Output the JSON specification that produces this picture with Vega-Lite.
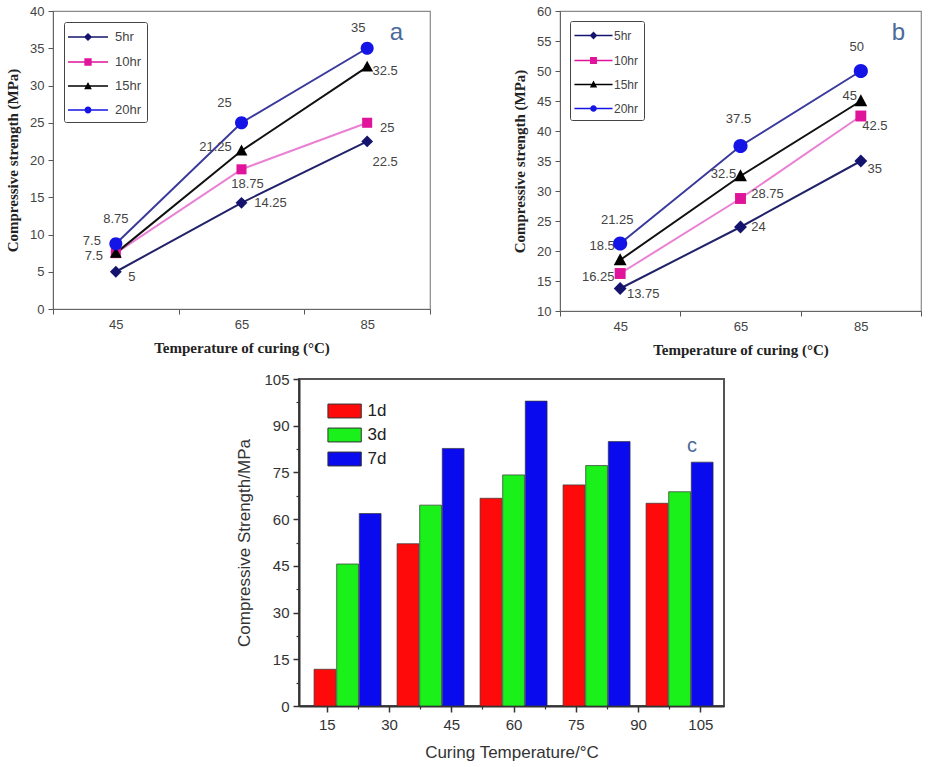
{
  "$schema": "https://vega.github.io/schema/vega-lite/v6.json",
  "background": "white",
  "padding": {"left": 4, "top": 4, "right": 4, "bottom": 4},
  "datasets": {
    "a": [
      {"series": "5hr", "temp": 45, "strength": 5},
      {"series": "5hr", "temp": 65, "strength": 14.25},
      {"series": "5hr", "temp": 85, "strength": 22.5},
      {"series": "10hr", "temp": 45, "strength": 7.5},
      {"series": "10hr", "temp": 65, "strength": 18.75},
      {"series": "10hr", "temp": 85, "strength": 25},
      {"series": "15hr", "temp": 45, "strength": 7.5},
      {"series": "15hr", "temp": 65, "strength": 21.25},
      {"series": "15hr", "temp": 85, "strength": 32.5},
      {"series": "20hr", "temp": 45, "strength": 8.75},
      {"series": "20hr", "temp": 65, "strength": 25},
      {"series": "20hr", "temp": 85, "strength": 35}
    ],
    "b": [
      {"series": "5hr", "temp": 45, "strength": 13.75},
      {"series": "5hr", "temp": 65, "strength": 24},
      {"series": "5hr", "temp": 85, "strength": 35},
      {"series": "10hr", "temp": 45, "strength": 16.25},
      {"series": "10hr", "temp": 65, "strength": 28.75},
      {"series": "10hr", "temp": 85, "strength": 42.5},
      {"series": "15hr", "temp": 45, "strength": 18.5},
      {"series": "15hr", "temp": 65, "strength": 32.5},
      {"series": "15hr", "temp": 85, "strength": 45},
      {"series": "20hr", "temp": 45, "strength": 21.25},
      {"series": "20hr", "temp": 65, "strength": 37.5},
      {"series": "20hr", "temp": 85, "strength": 50}
    ],
    "c": [
      {"temp": 20, "age": "1d", "strength": 11.8},
      {"temp": 20, "age": "3d", "strength": 45.6},
      {"temp": 20, "age": "7d", "strength": 61.8},
      {"temp": 40, "age": "1d", "strength": 52.1},
      {"temp": 40, "age": "3d", "strength": 64.5},
      {"temp": 40, "age": "7d", "strength": 82.7},
      {"temp": 60, "age": "1d", "strength": 66.7},
      {"temp": 60, "age": "3d", "strength": 74.2},
      {"temp": 60, "age": "7d", "strength": 97.9},
      {"temp": 80, "age": "1d", "strength": 71},
      {"temp": 80, "age": "3d", "strength": 77.2},
      {"temp": 80, "age": "7d", "strength": 84.9},
      {"temp": 100, "age": "1d", "strength": 65.1},
      {"temp": 100, "age": "3d", "strength": 68.8},
      {"temp": 100, "age": "7d", "strength": 78.3}
    ]
  },
  "config": {
    "view": {"stroke": "#8a8a8a", "strokeWidth": 1.2},
    "axis": {"grid": false}
  },
  "resolve": {
    "scale": {"color": "independent", "shape": "independent", "stroke": "independent"},
    "legend": {"color": "independent", "shape": "independent"}
  },
  "spacing": 13,
  "vconcat": [
    {
      "spacing": 79,
      "resolve": {
        "scale": {"color": "independent", "shape": "independent", "stroke": "independent"},
        "legend": {"color": "independent", "shape": "independent"}
      },
      "hconcat": [
        {
          "width": 377,
          "height": 298,
          "data": {"name": "a"},
          "title": {"text": "a", "orient": "top", "anchor": "end", "frame": "group", "baseline": "middle", "offset": -52, "dx": -27, "fontSize": 24, "font": "Liberation Sans", "fontWeight": "normal", "color": "#4a6a9a"},
          "encoding": {
            "x": {
              "field": "temp", "type": "ordinal", "bandPosition": 0.5,
              "scale": {"type": "band", "domain": [45, 65, 85], "paddingInner": 0, "paddingOuter": 0},
              "axis": {"title": "Temperature of curing (°C)", "labelAngle": 0, "tickBand": "extent", "labelFont": "Liberation Sans", "labelFontSize": 13, "labelColor": "#444", "labelPadding": 4, "tickSize": 5, "tickColor": "#555", "domainColor": "#666", "titleFont": "Liberation Serif", "titleFontSize": 15, "titleFontWeight": "bold", "titleColor": "#222", "titlePadding": 9}
            },
            "y": {
              "field": "strength", "type": "quantitative",
              "scale": {"domain": [0, 40], "nice": false},
              "axis": {"title": "Compressive strength (MPa)", "values": [0, 5, 10, 15, 20, 25, 30, 35, 40], "labelFont": "Liberation Sans", "labelFontSize": 13, "labelColor": "#444", "labelPadding": 4, "tickSize": 5, "tickColor": "#555", "domainColor": "#666", "titleFont": "Liberation Serif", "titleFontSize": 15, "titleFontWeight": "bold", "titleColor": "#222", "titlePadding": 9}
            }
          },
          "resolve": {"scale": {"color": "independent", "shape": "independent"}},
          "layer": [
            {
              "mark": {"type": "line", "strokeWidth": 2},
              "encoding": {
                "stroke": {"field": "series", "type": "nominal", "scale": {"domain": ["20hr", "15hr", "10hr", "5hr"], "range": ["#3a3a9c", "#111111", "#ea80d4", "#22226a"]}, "legend": null}
              }
            },
            {
              "mark": {
                "type": "text", "font": "Liberation Sans", "fontSize": 13, "color": "#444", "align": "center", "baseline": "middle",
                "dx": {"expr": "{'5hr':[16,29,18],'10hr':[-24,6,20],'15hr':[-22,-26,18],'20hr':[0,-17,-9]}[datum.series][indexof([45,65,85],datum.temp)]"},
                "dy": {"expr": "{'5hr':[5,0,21],'10hr':[-12,15,5],'15hr':[3,-4,4],'20hr':[-25,-20,-20]}[datum.series][indexof([45,65,85],datum.temp)]"}
              },
              "encoding": {"text": {"field": "strength", "type": "nominal"}}
            },
            {
              "mark": {"type": "point", "filled": true, "size": 140, "opacity": 1},
              "encoding": {
                "color": {"field": "series", "type": "nominal", "scale": {"domain": ["5hr", "10hr", "15hr", "20hr"], "range": ["#14146e", "#e0149a", "#000000", "#1414e6"]}, "legend": null},
                "shape": {"field": "series", "type": "nominal", "scale": {"domain": ["5hr", "10hr", "15hr", "20hr"], "range": ["M0,-1L1,0L0,1L-1,0Z", "M-0.85,-0.85H0.85V0.85H-0.85Z", "M0,-1.05L1,0.8H-1Z", "M1.1,0A1.1,1.1,0,1,1,-1.1,0A1.1,1.1,0,1,1,1.1,0Z"]}, "legend": null}
              }
            },
            {
              "mark": {"type": "point", "filled": true, "size": 330, "opacity": 0},
              "encoding": {
                "color": {
                  "field": "series", "type": "nominal",
                  "scale": {"domain": ["5hr", "10hr", "15hr", "20hr"], "range": ["#14146e", "#e0149a", "#000000", "#1414e6"]},
                  "legend": {
                    "title": null, "orient": "top-left", "offset": 11, "padding": 5,
                    "strokeColor": "#444", "fillColor": "white", "cornerRadius": 2,
                    "symbolSize": 330, "symbolOpacity": 1, "symbolOffset": 9, "labelOffset": 17,
                    "labelFont": "Liberation Sans", "labelFontSize": 13, "labelColor": "#444", "rowPadding": 7
                  }
                },
                "shape": {
                  "field": "series", "type": "nominal",
                  "scale": {"domain": ["5hr", "10hr", "15hr", "20hr"], "range": [
                    "M-2.2,-0.08H2.2V0.08H-2.2ZM0,-0.45L0.45,0L0,0.45L-0.45,0Z",
                    "M-2.2,-0.08H2.2V0.08H-2.2ZM-0.4,-0.4H0.4V0.4H-0.4Z",
                    "M-2.2,-0.08H2.2V0.08H-2.2ZM0,-0.45L0.42,0.35H-0.42Z",
                    "M-2.2,-0.08H2.2V0.08H-2.2ZM0.38,0A0.38,0.38,0,1,1,-0.38,0A0.38,0.38,0,1,1,0.38,0Z"
                  ]},
                  "legend": {
                    "title": null, "orient": "top-left", "offset": 11, "padding": 5,
                    "strokeColor": "#444", "fillColor": "white", "cornerRadius": 2,
                    "symbolSize": 330, "symbolOpacity": 1, "symbolOffset": 9, "labelOffset": 17,
                    "labelFont": "Liberation Sans", "labelFontSize": 13, "labelColor": "#444", "rowPadding": 7
                  }
                }
              }
            }
          ]
        },
        {
          "width": 361,
          "height": 300,
          "data": {"name": "b"},
          "title": {"text": "b", "orient": "top", "anchor": "end", "frame": "group", "baseline": "middle", "offset": -52, "dx": -16, "fontSize": 24, "font": "Liberation Sans", "fontWeight": "normal", "color": "#4a6a9a"},
          "encoding": {
            "x": {
              "field": "temp", "type": "ordinal", "bandPosition": 0.5,
              "scale": {"type": "band", "domain": [45, 65, 85], "paddingInner": 0, "paddingOuter": 0},
              "axis": {"title": "Temperature of curing (°C)", "labelAngle": 0, "tickBand": "extent", "labelFont": "Liberation Sans", "labelFontSize": 13, "labelColor": "#444", "labelPadding": 4, "tickSize": 5, "tickColor": "#555", "domainColor": "#666", "titleFont": "Liberation Serif", "titleFontSize": 15, "titleFontWeight": "bold", "titleColor": "#222", "titlePadding": 9}
            },
            "y": {
              "field": "strength", "type": "quantitative",
              "scale": {"domain": [10, 60], "nice": false, "zero": false},
              "axis": {"title": "Compressive strength (MPa)", "values": [10, 15, 20, 25, 30, 35, 40, 45, 50, 55, 60], "labelFont": "Liberation Sans", "labelFontSize": 13, "labelColor": "#444", "labelPadding": 4, "tickSize": 5, "tickColor": "#555", "domainColor": "#666", "titleFont": "Liberation Serif", "titleFontSize": 15, "titleFontWeight": "bold", "titleColor": "#222", "titlePadding": 9}
            }
          },
          "resolve": {"scale": {"color": "independent", "shape": "independent"}},
          "layer": [
            {
              "mark": {"type": "line", "strokeWidth": 2},
              "encoding": {
                "stroke": {"field": "series", "type": "nominal", "scale": {"domain": ["20hr", "15hr", "10hr", "5hr"], "range": ["#3a3a9c", "#111111", "#ea80d4", "#22226a"]}, "legend": null}
              }
            },
            {
              "mark": {
                "type": "text", "font": "Liberation Sans", "fontSize": 13, "color": "#444", "align": "center", "baseline": "middle",
                "dx": {"expr": "{'5hr':[23,18,14],'10hr':[-22,27,14],'15hr':[-18,-17,-11],'20hr':[-3,-2,-4]}[datum.series][indexof([45,65,85],datum.temp)]"},
                "dy": {"expr": "{'5hr':[5,0,8],'10hr':[3,-5,10],'15hr':[-14,-2,-5],'20hr':[-24,-27,-24]}[datum.series][indexof([45,65,85],datum.temp)]"}
              },
              "encoding": {"text": {"field": "strength", "type": "nominal"}}
            },
            {
              "mark": {"type": "point", "filled": true, "size": 165, "opacity": 1},
              "encoding": {
                "color": {"field": "series", "type": "nominal", "scale": {"domain": ["5hr", "10hr", "15hr", "20hr"], "range": ["#14146e", "#e0149a", "#000000", "#1414e6"]}, "legend": null},
                "shape": {"field": "series", "type": "nominal", "scale": {"domain": ["5hr", "10hr", "15hr", "20hr"], "range": ["M0,-1L1,0L0,1L-1,0Z", "M-0.85,-0.85H0.85V0.85H-0.85Z", "M0,-1.05L1,0.8H-1Z", "M1.1,0A1.1,1.1,0,1,1,-1.1,0A1.1,1.1,0,1,1,1.1,0Z"]}, "legend": null}
              }
            },
            {
              "mark": {"type": "point", "filled": true, "size": 300, "opacity": 0},
              "encoding": {
                "color": {
                  "field": "series", "type": "nominal",
                  "scale": {"domain": ["5hr", "10hr", "15hr", "20hr"], "range": ["#14146e", "#e0149a", "#000000", "#1414e6"]},
                  "legend": {
                    "title": null, "orient": "top-left", "offset": 10, "padding": 5,
                    "strokeColor": "#444", "fillColor": "white", "cornerRadius": 2,
                    "symbolSize": 300, "symbolOpacity": 1, "symbolOffset": 9, "labelOffset": 11,
                    "labelFont": "Liberation Sans", "labelFontSize": 12, "labelColor": "#444", "rowPadding": 8
                  }
                },
                "shape": {
                  "field": "series", "type": "nominal",
                  "scale": {"domain": ["5hr", "10hr", "15hr", "20hr"], "range": [
                    "M-2.2,-0.08H2.2V0.08H-2.2ZM0,-0.45L0.45,0L0,0.45L-0.45,0Z",
                    "M-2.2,-0.08H2.2V0.08H-2.2ZM-0.4,-0.4H0.4V0.4H-0.4Z",
                    "M-2.2,-0.08H2.2V0.08H-2.2ZM0,-0.45L0.42,0.35H-0.42Z",
                    "M-2.2,-0.08H2.2V0.08H-2.2ZM0.38,0A0.38,0.38,0,1,1,-0.38,0A0.38,0.38,0,1,1,0.38,0Z"
                  ]},
                  "legend": {
                    "title": null, "orient": "top-left", "offset": 10, "padding": 5,
                    "strokeColor": "#444", "fillColor": "white", "cornerRadius": 2,
                    "symbolSize": 300, "symbolOpacity": 1, "symbolOffset": 9, "labelOffset": 11,
                    "labelFont": "Liberation Sans", "labelFontSize": 12, "labelColor": "#444", "rowPadding": 8
                  }
                }
              }
            }
          ]
        }
      ]
    },
    {
      "spacing": 0,
      "resolve": {
        "scale": {"color": "independent"},
        "legend": {"color": "independent"}
      },
      "hconcat": [
        {
          "width": 181,
          "height": 10,
          "view": {"stroke": null},
          "data": {"values": []},
          "mark": {"type": "point", "opacity": 0},
          "encoding": {}
        },
        {
          "width": 425,
          "height": 327,
          "view": {"stroke": "#555", "strokeWidth": 2},
          "data": {"name": "c"},
          "title": {"text": "c", "orient": "top", "anchor": "end", "frame": "group", "baseline": "middle", "offset": -94, "dx": -27, "fontSize": 20, "font": "Liberation Sans", "fontWeight": "normal", "color": "#4a6a9a"},
          "resolve": {"axis": {"x": "independent", "y": "independent"}},
          "layer": [
            {
              "encoding": {
                "x": {
                  "field": "temp", "type": "quantitative",
                  "scale": {"domain": [9.5, 109.5], "nice": false, "zero": false},
                  "axis": {"title": "Curing Temperature/°C", "values": [15, 30, 45, 60, 75, 90, 105], "labelFont": "Liberation Sans", "labelFontSize": 15, "labelColor": "#333", "labelPadding": 5, "tickSize": 6, "tickWidth": 1.5, "tickColor": "#333", "domainColor": "#333", "domainWidth": 2, "titleFont": "Liberation Sans", "titleFontSize": 17, "titleFontWeight": "normal", "titleColor": "#333", "titlePadding": 12}
                },
                "y": {
                  "field": "strength", "type": "quantitative",
                  "scale": {"domain": [0, 105], "nice": false},
                  "axis": {"title": "Compressive Strength/MPa", "values": [0, 15, 30, 45, 60, 75, 90, 105], "labelFont": "Liberation Sans", "labelFontSize": 15, "labelColor": "#333", "labelPadding": 4, "tickSize": 6, "tickWidth": 1.5, "tickColor": "#333", "domainColor": "#333", "domainWidth": 2, "titleFont": "Liberation Sans", "titleFontSize": 17, "titleFontWeight": "normal", "titleColor": "#333", "titlePadding": 10}
                },
                "color": {
                  "field": "age", "type": "nominal",
                  "scale": {"domain": ["1d", "3d", "7d"], "range": ["#ff0a0a", "#1af01a", "#0a0aee"]},
                  "legend": {
                    "title": null, "orient": "top-left", "offset": 19, "padding": 4.5,
                    "symbolType": "M-2.4,-1H2.4V1H-2.4Z", "symbolSize": 193, "symbolOffset": 13.6, "labelOffset": 14.5,
                    "symbolStrokeColor": "#333", "symbolStrokeWidth": 1,
                    "labelFont": "Liberation Sans", "labelFontSize": 17, "labelColor": "#222", "rowPadding": 5
                  }
                }
              },
              "layer": [
                {"transform": [{"filter": "datum.age === '1d'"}], "mark": {"type": "bar", "width": 21.8, "xOffset": -22.6, "stroke": "#333", "strokeWidth": 0.7}},
                {"transform": [{"filter": "datum.age === '3d'"}], "mark": {"type": "bar", "width": 21.8, "xOffset": 0, "stroke": "#333", "strokeWidth": 0.7}},
                {"transform": [{"filter": "datum.age === '7d'"}], "mark": {"type": "bar", "width": 21.8, "xOffset": 22.6, "stroke": "#333", "strokeWidth": 0.7}}
              ]
            },
            {
              "mark": {"type": "point", "opacity": 0},
              "encoding": {
                "x": {"field": "temp", "type": "quantitative", "axis": {"orient": "bottom", "values": [22.5, 37.5, 52.5, 67.5, 82.5, 97.5], "labels": false, "domain": false, "title": null, "tickSize": 3, "tickWidth": 1.2, "tickColor": "#333"}},
                "y": {"field": "strength", "type": "quantitative", "axis": {"orient": "left", "values": [7.5, 22.5, 37.5, 52.5, 67.5, 82.5, 97.5], "labels": false, "domain": false, "title": null, "tickSize": 3, "tickWidth": 1.2, "tickColor": "#333"}}
              }
            }
          ]
        }
      ]
    }
  ]
}
